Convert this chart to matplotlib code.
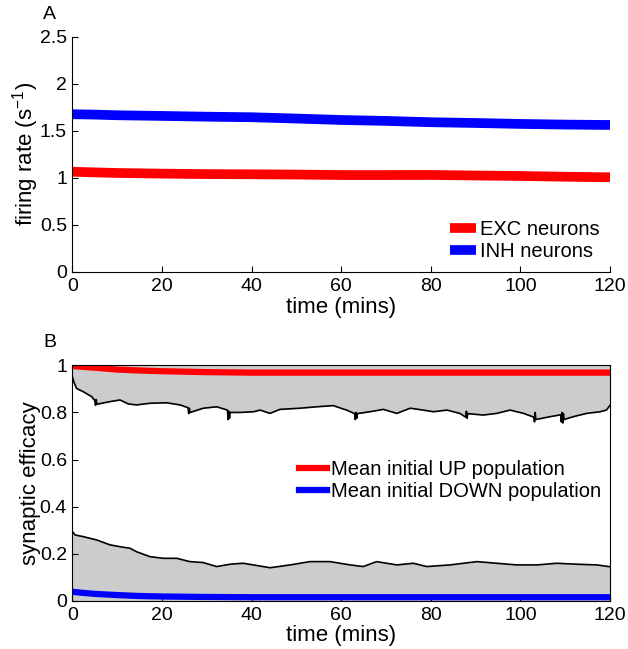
import numpy as np
import matplotlib
matplotlib.use('Agg')
import matplotlib.pyplot as plt

plt.rcParams['font.family'] = ['Liberation Sans', 'DejaVu Sans']
plt.rcParams['mathtext.fontset'] = 'custom'
plt.rcParams['mathtext.rm'] = 'Liberation Sans'
plt.rcParams['mathtext.it'] = 'Liberation Sans'

# ---- panel A: firing rates ----
rate_t = [0, 5, 10, 20, 30, 40, 50, 60, 70, 80, 90, 100, 110, 120]
exc_rate = [1.065, 1.058, 1.052, 1.045, 1.040, 1.038, 1.035, 1.030, 1.030, 1.031, 1.025, 1.020, 1.012, 1.006]
inh_rate = [1.676, 1.672, 1.665, 1.658, 1.650, 1.644, 1.630, 1.615, 1.605, 1.591, 1.583, 1.573, 1.566, 1.562]

# ---- panel B: synaptic efficacy ----
mean_t = [0, 2, 5, 10, 15, 20, 30, 40, 60, 80, 100, 120]
mean_up = [0.997, 0.994, 0.99, 0.982, 0.978, 0.975, 0.971, 0.969, 0.969, 0.969, 0.969, 0.969]
mean_down = [0.039, 0.035, 0.030, 0.025, 0.021, 0.019, 0.017, 0.016, 0.016, 0.016, 0.016, 0.016]

up_t = [0, 0.3, 0.9, 2.4, 4.3, 5.0, 5.15, 5.3, 5.45, 8.4, 10.6, 12.5, 14.3, 17.3, 21.0,
        24.0, 25.8, 25.95, 26.1, 26.25, 29.2, 32.2, 34.6, 34.75, 34.9, 35.05, 35.2,
        37.4, 40.4, 41.9, 44.1, 46.3, 50.8, 54.5, 58.2, 61.2, 63.0, 63.15, 63.3, 63.45,
        63.6, 66.4, 69.4, 72.4, 75.4, 78.3, 80.6, 83.6, 86.5, 87.8, 87.95, 88.1, 88.25,
        91.7, 94.7, 97.7, 100.7, 103.0, 103.15, 103.3, 103.45, 106.6, 109.0, 109.15,
        109.3, 109.45, 109.6, 109.75, 111.8, 114.8, 117.8, 119.2, 120]
up_low = [0.95, 0.93, 0.902, 0.888, 0.867, 0.85, 0.83, 0.855, 0.835, 0.846, 0.853, 0.836,
          0.832, 0.839, 0.841, 0.832, 0.82, 0.795, 0.818, 0.80, 0.818, 0.824, 0.81, 0.77,
          0.805, 0.775, 0.80, 0.80, 0.803, 0.81, 0.796, 0.813, 0.818, 0.824, 0.829, 0.81,
          0.795, 0.77, 0.80, 0.775, 0.795, 0.803, 0.813, 0.796, 0.818, 0.81, 0.803, 0.81,
          0.796, 0.78, 0.805, 0.775, 0.795, 0.789, 0.796, 0.81, 0.796, 0.78, 0.76, 0.80,
          0.77, 0.782, 0.79, 0.76, 0.80, 0.755, 0.795, 0.77, 0.782, 0.796, 0.803, 0.81, 0.83]

down_t = [0, 0.6, 2.4, 5.4, 8.4, 11.3, 12.8, 14.3, 17.3, 20.3, 23.3, 26.2, 29.2, 32.2,
          35.2, 38.1, 40.4, 44.1, 48.6, 53.0, 57.5, 62.0, 64.9, 67.9, 72.4, 76.1, 79.1,
          84.3, 87.3, 90.3, 94.7, 99.2, 103.7, 108.1, 112.6, 117.1, 119.7, 120]
down_high = [0.294, 0.28, 0.273, 0.259, 0.238, 0.228, 0.224, 0.209, 0.188, 0.181, 0.181,
             0.167, 0.163, 0.146, 0.156, 0.16, 0.153, 0.141, 0.153, 0.167, 0.167, 0.153,
             0.146, 0.167, 0.153, 0.16, 0.146, 0.153, 0.16, 0.167, 0.16, 0.153, 0.153,
             0.16, 0.156, 0.153, 0.146, 0.146]

fs = 14
lfs = 16
fig = plt.figure(figsize=(6.28, 6.49), dpi=100)

axA = fig.add_axes([0.1154, 0.5809, 0.8559, 0.3626])
axA.plot(rate_t, exc_rate, color='#ff0000', lw=7, solid_capstyle='butt', label='EXC neurons')
axA.plot(rate_t, inh_rate, color='#0000ff', lw=7, solid_capstyle='butt', label='INH neurons')
axA.set_xlim(0, 120)
axA.set_ylim(0, 2.5)
axA.set_xticks(range(0, 121, 20))
axA.set_yticks([0, 0.5, 1, 1.5, 2, 2.5])
axA.set_yticklabels(['0', '0.5', '1', '1.5', '2', '2.5'])
axA.spines['top'].set_visible(False)
axA.spines['right'].set_visible(False)
axA.set_xlabel('time (mins)', fontsize=lfs, labelpad=2)
axA.set_ylabel('firing rate (s$^{-1}$)', fontsize=lfs, labelpad=-1)
axA.legend(loc='upper left', bbox_to_anchor=(0.702, 0.222), frameon=False, fontsize=14.5,
           borderpad=0, borderaxespad=0, handlelength=1.3, handletextpad=0.2,
           labelspacing=0.15)
fig.text(0.069, 0.978, 'A', fontsize=fs, va='center')

axB = fig.add_axes([0.1154, 0.074, 0.8559, 0.3631])
axB.fill_between(up_t, up_low, 1, color='#cccccc', lw=0)
axB.fill_between(down_t, 0, down_high, color='#cccccc', lw=0)
axB.plot(up_t, up_low, color='black', lw=1.2)
axB.plot(down_t, down_high, color='black', lw=1.2)
axB.plot(mean_t, mean_up, color='#ff0000', lw=4.5, label='Mean initial UP population')
axB.plot(mean_t, mean_down, color='#0000ff', lw=4.5, label='Mean initial DOWN population')
axB.set_xlim(0, 120)
axB.set_ylim(0, 1)
axB.set_xticks(range(0, 121, 20))
axB.set_yticks([0, 0.2, 0.4, 0.6, 0.8, 1])
axB.set_yticklabels(['0', '0.2', '0.4', '0.6', '0.8', '1'])
axB.set_xlabel('time (mins)', fontsize=lfs, labelpad=1)
axB.set_ylabel('synaptic efficacy', fontsize=lfs, labelpad=-1)
axB.legend(loc='upper left', bbox_to_anchor=(0.421, 0.597), frameon=False, fontsize=14.5,
           borderpad=0, borderaxespad=0, handlelength=1.4, handletextpad=0.2,
           labelspacing=0.15)
fig.text(0.069, 0.473, 'B', fontsize=fs, va='center')

for ax in (axA, axB):
    ax.tick_params(direction='in', length=4, width=0.8, labelsize=fs, pad=4)
    for s in ax.spines.values():
        s.set_linewidth(0.8)

fig.savefig('out.png', dpi=100)
